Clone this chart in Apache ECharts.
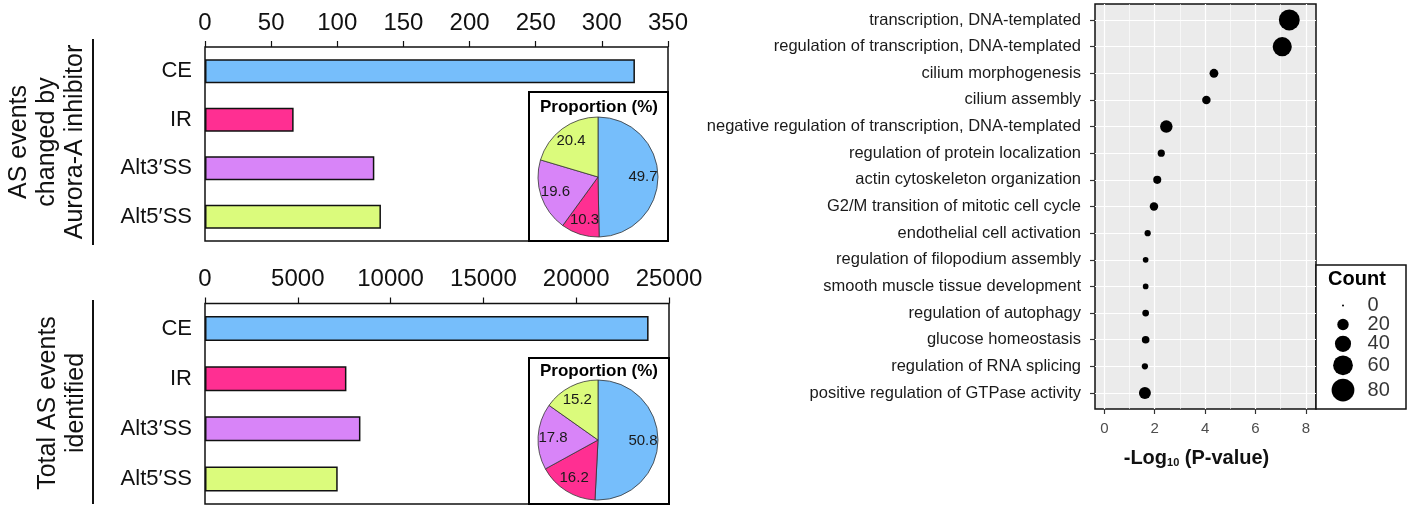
<!DOCTYPE html>
<html>
<head>
<meta charset="utf-8">
<script src="https://cdn.jsdelivr.net/npm/echarts@6/dist/echarts.min.js"></script>
<style>
  html, body { margin: 0; background: #fff; }
  #main { width: 1417px; height: 508px; }
</style>
</head>
<body>
<div id="main"></div>
<script>
// AS event types, shared by both bar panels
var eventTypes = ['CE', 'IR', 'Alt3′SS', 'Alt5′SS'];
var typeColors = ['#76BEFB', '#FF2F92', '#D884F8', '#DBFB7C'];

// top panel: AS events changed by Aurora-A inhibitor
var changedCounts = [325, 67, 128, 133];
var changedProportion = [49.7, 10.3, 19.6, 20.4];
var changedTicks = [0, 50, 100, 150, 200, 250, 300, 350];

// bottom panel: total AS events identified
var totalCounts = [23900, 7620, 8375, 7150];
var totalProportion = [50.8, 16.2, 17.8, 15.2];
var totalTicks = [0, 5000, 10000, 15000, 20000, 25000];

// GO dot plot
var goTerms = [
  'transcription, DNA-templated',
  'regulation of transcription, DNA-templated',
  'cilium morphogenesis',
  'cilium assembly',
  'negative regulation of transcription, DNA-templated',
  'regulation of protein localization',
  'actin cytoskeleton organization',
  'G2/M transition of mitotic cell cycle',
  'endothelial cell activation',
  'regulation of filopodium assembly',
  'smooth muscle tissue development',
  'regulation of autophagy',
  'glucose homeostasis',
  'regulation of RNA splicing',
  'positive regulation of GTPase activity'
];
var goLogP = [7.34, 7.06, 4.35, 4.05, 2.46, 2.26, 2.10, 1.97, 1.72, 1.64, 1.64, 1.64, 1.64, 1.61, 1.61];
var goCount = [67, 56, 12, 11, 24, 8, 10, 11, 6, 5, 5, 7, 9, 6, 22];
var logPTicks = [0, 2, 4, 6, 8];
var logPMinor = [1, 3, 5, 7];
var countLegend = [0, 20, 40, 60, 80];

var FONT = 'Liberation Sans, Arial, Helvetica, sans-serif';

function dotSize(c) {
  return Math.max(2, 2.55 * Math.sqrt(c));
}

// legend keys stacked by key height (like ggplot)
var legendY = [];
var acc = 31;
countLegend.forEach(function (c) {
  var h = Math.max(19, dotSize(c) + 3.5);
  legendY.push(acc + h / 2);
  acc += h;
});

var chart = echarts.init(document.getElementById('main'), null, { renderer: 'canvas' });

function barAxis(grid, ticks) {
  return {
    gridIndex: grid,
    type: 'value',
    position: 'top',
    min: ticks[0],
    max: ticks[ticks.length - 1],
    interval: ticks[1] - ticks[0],
    axisLine: { show: false, onZero: false },
    axisTick: { show: true, length: 6, lineStyle: { color: '#111', width: 1.2 } },
    axisLabel: { fontSize: 24, color: '#111', margin: 12, formatter: function (v) { return String(v); } },
    splitLine: { show: false }
  };
}

function catAxis(grid) {
  return {
    gridIndex: grid,
    type: 'category',
    data: eventTypes,
    inverse: true,
    axisLine: { show: false, onZero: false },
    axisTick: { show: false },
    axisLabel: { fontSize: 22, color: '#111', margin: 13 }
  };
}

function barSeries(idx, values, width) {
  return {
    type: 'bar',
    xAxisIndex: idx,
    yAxisIndex: idx,
    barWidth: width,
    data: values.map(function (v, i) {
      return { value: v, itemStyle: { color: typeColors[i] } };
    }),
    itemStyle: { borderColor: '#111', borderWidth: 1.5 }
  };
}

function pieSeries(center, props) {
  return [{
    type: 'pie',
    center: center,
    radius: [0, 60],
    startAngle: 90,
    z: 3,
    silent: true,
    label: { show: false },
    labelLine: { show: false },
    itemStyle: { borderColor: '#333', borderWidth: 0.8 },
    data: props.map(function (v, i) {
      return { name: eventTypes[i], value: v, itemStyle: { color: typeColors[i] } };
    })
  }, {
    // transparent copy only to place the percentage labels a bit further out
    type: 'pie',
    center: center,
    radius: [26, 58],
    startAngle: 90,
    z: 4,
    silent: true,
    itemStyle: { color: 'rgba(0,0,0,0)', borderWidth: 0 },
    label: { show: true, position: 'inside', formatter: '{c}', fontSize: 15, color: '#1a1a1a' },
    labelLine: { show: false },
    data: props.map(function (v, i) {
      return { name: eventTypes[i], value: v };
    })
  }];
}

var catIndex = goTerms.map(function (t, i) { return i; });

var option = {
  animation: false,
  backgroundColor: '#fff',
  textStyle: { fontFamily: FONT },
  grid: [
    { left: 205, top: 47, width: 463, height: 194, show: true, borderColor: '#111', borderWidth: 1.5 },
    { left: 205, top: 303.5, width: 464, height: 200.5, show: true, borderColor: '#111', borderWidth: 1.5 },
    { left: 1095, top: 4, width: 221, height: 405, show: true, backgroundColor: '#EBEBEB', borderColor: '#111', borderWidth: 1.5 },
    { left: 1316, top: 265, width: 90, height: 144, show: true, backgroundColor: '#fff', borderColor: '#111', borderWidth: 1.5 }
  ],
  xAxis: [
    barAxis(0, changedTicks),
    barAxis(1, totalTicks),
    {
      gridIndex: 2,
      type: 'value',
      min: -0.37,
      max: 8.40,
      axisLine: { show: false, onZero: false },
      axisTick: { show: true, length: 5, customValues: logPTicks, lineStyle: { color: '#333', width: 1.2 } },
      axisLabel: { customValues: logPTicks, fontSize: 15, color: '#4d4d4d', margin: 12 },
      splitLine: { show: true, lineStyle: { color: '#fff', width: 1.2 } },
      name: '-Log{sub|10} (P-value)',
      nameLocation: 'middle',
      nameGap: 39,
      nameTextStyle: {
        fontSize: 20, fontWeight: 'bold', color: '#111', padding: [0, 18, 0, 0],
        rich: { sub: { fontSize: 11, fontWeight: 'bold', verticalAlign: 'bottom', padding: [8, 0, 0, 0] } }
      }
    },
    {
      // minor vertical grid lines
      gridIndex: 2,
      type: 'value',
      position: 'top',
      min: -0.37,
      max: 8.40,
      axisLine: { show: false, onZero: false },
      axisTick: { show: false, customValues: logPMinor },
      axisLabel: { show: false, customValues: logPMinor },
      splitLine: { show: true, lineStyle: { color: '#fff', width: 0.6 } }
    },
    { gridIndex: 3, type: 'value', min: 0, max: 1, show: false }
  ],
  yAxis: [
    catAxis(0),
    catAxis(1),
    {
      gridIndex: 2,
      type: 'value',
      inverse: true,
      min: -0.6,
      max: goTerms.length - 1 + 0.6,
      axisLine: { show: false, onZero: false },
      axisTick: { show: true, length: 5, customValues: catIndex, lineStyle: { color: '#333', width: 1.2 } },
      axisLabel: {
        customValues: catIndex,
        fontSize: 16.5, color: '#1a1a1a', margin: 14,
        formatter: function (v) { return goTerms[Math.round(v)]; }
      },
      splitLine: { show: true, lineStyle: { color: '#fff', width: 1.2 } }
    },
    { gridIndex: 3, type: 'value', inverse: true, min: 0, max: 144, show: false }
  ],
  series: [
    barSeries(0, changedCounts, 24),
    barSeries(1, totalCounts, 25)
  ].concat(pieSeries([598, 177], changedProportion))
   .concat(pieSeries([598, 440], totalProportion))
   .concat([
    {
      type: 'scatter',
      xAxisIndex: 2,
      yAxisIndex: 2,
      data: goTerms.map(function (t, i) { return [goLogP[i], i, goCount[i]]; }),
      symbolSize: function (d) { return dotSize(d[2]); },
      itemStyle: { color: '#000', opacity: 1 }
    },
    {
      type: 'scatter',
      xAxisIndex: 4,
      yAxisIndex: 3,
      data: countLegend.map(function (c, i) { return [0.3, legendY[i], c]; }),
      symbolSize: function (d) { return dotSize(d[2]); },
      itemStyle: { color: '#000', opacity: 1 }
    },
    {
      type: 'scatter',
      xAxisIndex: 4,
      yAxisIndex: 3,
      data: countLegend.map(function (c, i) { return [0.567, legendY[i], c]; }),
      symbolSize: 1,
      itemStyle: { color: 'rgba(0,0,0,0)' },
      label: {
        show: true, position: 'right', distance: 0, fontSize: 20, color: '#000',
        formatter: function (p) { return String(p.value[2]); }
      }
    }
  ]),
  graphic: [
    { type: 'rect', z: 1, shape: { x: 529, y: 92, width: 139, height: 149 }, style: { fill: '#fff', stroke: '#000', lineWidth: 2 } },
    { type: 'rect', z: 1, shape: { x: 529, y: 358, width: 140, height: 146 }, style: { fill: '#fff', stroke: '#000', lineWidth: 2 } },
    { type: 'text', z: 5, x: 599, y: 107, style: { text: 'Proportion (%)', font: 'bold 17px ' + FONT, fill: '#000', textAlign: 'center', textVerticalAlign: 'middle' } },
    { type: 'text', z: 5, x: 599, y: 371, style: { text: 'Proportion (%)', font: 'bold 17px ' + FONT, fill: '#000', textAlign: 'center', textVerticalAlign: 'middle' } },
    { type: 'line', shape: { x1: 93, y1: 39, x2: 93, y2: 245 }, style: { stroke: '#111', lineWidth: 2 } },
    { type: 'line', shape: { x1: 93, y1: 300, x2: 93, y2: 504 }, style: { stroke: '#111', lineWidth: 2 } },
    { type: 'text', x: 47, y: 142, rotation: Math.PI / 2,
      style: { text: 'AS events\nchanged by\nAurora-A inhibitor', font: '25px ' + FONT, lineHeight: 28, fill: '#111', textAlign: 'center', textVerticalAlign: 'middle' } },
    { type: 'text', x: 62, y: 403, rotation: Math.PI / 2,
      style: { text: 'Total AS events\nidentified', font: '25px ' + FONT, lineHeight: 28, fill: '#111', textAlign: 'center', textVerticalAlign: 'middle' } },
    { type: 'text', x: 1357, y: 279, style: { text: 'Count', font: 'bold 20px ' + FONT, fill: '#000', textAlign: 'center', textVerticalAlign: 'middle' } }
  ]
};

chart.setOption(option);
</script>
</body>
</html>
